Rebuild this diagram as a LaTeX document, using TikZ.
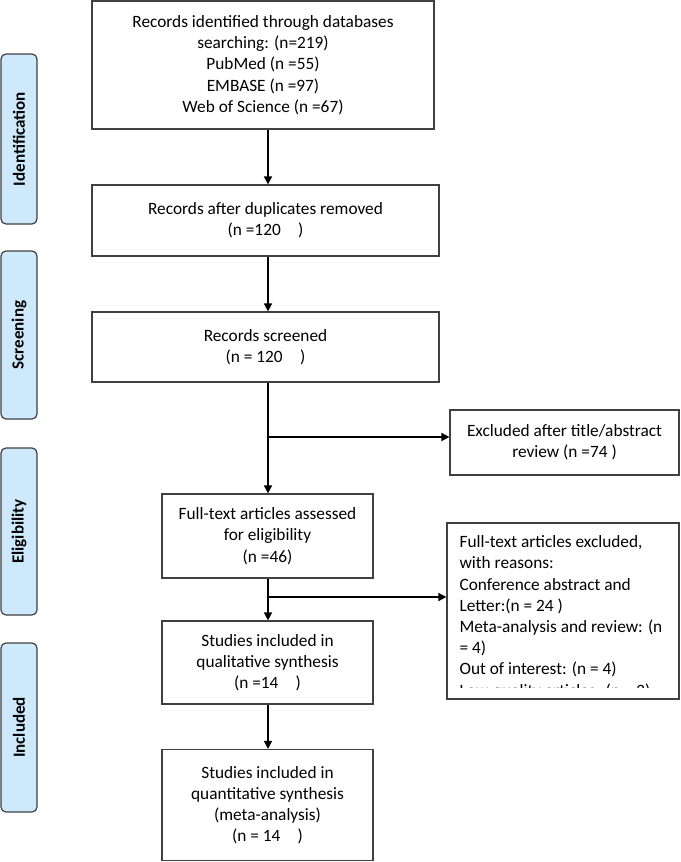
\documentclass[tikz,border=0pt]{standalone}
\usepackage{fontspec}
\setmainfont{Carlito}
\usetikzlibrary{arrows.meta}
\definecolor{stagefill}{HTML}{CDE9FB}
\definecolor{boxline}{HTML}{404040}
\tikzset{
  flowbox/.style={draw=boxline, line width=1.2pt, align=center, inner sep=0pt, font=\fontsize{17.3}{21.2}\selectfont},
  stage/.style={draw=boxline, line width=1.2pt, fill=stagefill, rounded corners=5pt, rotate=90,
    minimum height=36pt, inner sep=0pt, font=\fontsize{17}{19}\selectfont\bfseries},
  arr/.style={-{Triangle[length=8pt,width=8pt]}, line width=1.6pt}
}
\begin{document}
\begin{tikzpicture}[x=1pt, y=-1pt]
  \useasboundingbox (0,0) rectangle (680,862);
  % stages on the left
  \node[stage, minimum width=170pt] (sident) at (19, 139) {Identification};
  \node[stage, minimum width=168pt] (sscreen) at (19, 335) {Screening};
  \node[stage, minimum width=167pt] (selig) at (19, 531.5) {Eligibility};
  \node[stage, minimum width=169pt] (sincl) at (19, 727.5) {Included};

  % main column
  \node[flowbox, minimum width=342pt, minimum height=128pt] (ident) at (263, 65)
    {Records identified through databases\\searching: (n=219)\\PubMed (n =55)\\EMBASE (n =97)\\Web of Science (n =67)};
  \node[flowbox, minimum width=347pt, minimum height=71pt] (dup) at (265.5, 220.5)
    {Records after duplicates removed\\(n =120\enspace\enspace)};
  \node[flowbox, minimum width=347pt, minimum height=70pt] (screen) at (265.5, 347)
    {Records screened\\(n = 120\enspace\enspace)};
  \node[flowbox, minimum width=211pt, minimum height=84pt] (full) at (267.5, 536)
    {Full-text articles assessed\\for eligibility\\(n =46)};
  \node[flowbox, minimum width=211pt, minimum height=83pt] (qual) at (267.5, 662.5)
    {Studies included in\\qualitative synthesis\\(n =14\enspace\enspace)};
  \node[flowbox, minimum width=211pt, minimum height=111pt] (quant) at (267.5, 805)
    {Studies included in\\quantitative synthesis\\(meta-analysis)\\(n = 14\enspace\enspace)};

  % exclusions
  \node[flowbox, minimum width=229pt, minimum height=65pt] (excl) at (564.5, 442.5)
    {Excluded after title/abstract\\review (n =74 )};
  \node[flowbox, minimum width=232pt, minimum height=176pt] (exclfull) at (563, 611) {};
  \begin{scope}
    \clip (exclfull.north west) rectangle ([yshift=12pt]exclfull.south east);
    \node[anchor=north west, align=left, inner sep=0pt, font=\fontsize{17.3}{21.2}\selectfont] (reasons)
      at ([xshift=13pt, yshift=-13pt]exclfull.north west)
      {Full-text articles excluded,\\with reasons:\\Conference abstract and\\Letter:(n = 24 )\\Meta-analysis and review: (n\\= 4)\\Out of interest: (n = 4)\\Low-quality articles: (n = 2)};
  \end{scope}

  % connectors
  \coordinate (trunk) at (268, 0);
  \coordinate (b1) at (268, 437);
  \coordinate (b2) at (268, 597);
  \draw[arr] (ident.south -| trunk) -- (dup.north -| trunk);
  \draw[arr] (dup.south -| trunk) -- (screen.north -| trunk);
  \draw[arr] (screen.south -| trunk) -- (full.north -| trunk);
  \draw[arr] (b1) -- (excl.west |- b1);
  \draw[arr] (full.south -| trunk) -- (qual.north -| trunk);
  \draw[arr] (b2) -- (exclfull.west |- b2);
  \draw[arr] (qual.south -| trunk) -- (quant.north -| trunk);
\end{tikzpicture}
\end{document}
